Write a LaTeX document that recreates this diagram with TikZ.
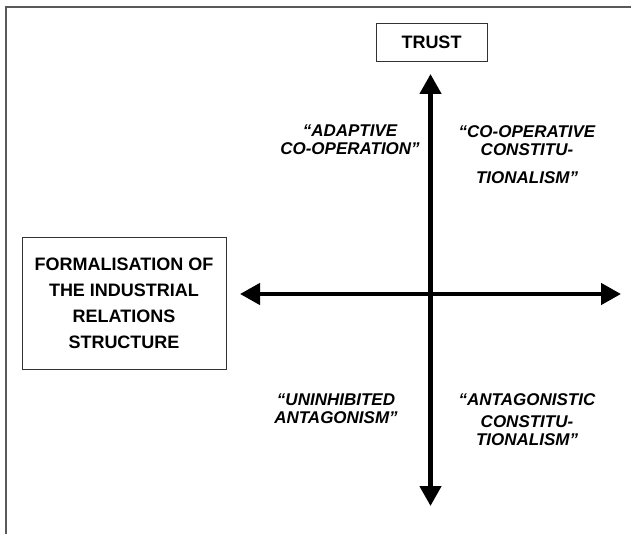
\documentclass[tikz,border=0pt]{standalone}
\usepackage{fontspec}
\setmainfont{Liberation Sans}
\usetikzlibrary{arrows.meta}
\begin{document}
\begin{tikzpicture}[x=1pt,y=-1pt,
  frame/.style={draw=black!65, line width=1.4pt},
  box/.style={draw=black!80, line width=0.9pt, font=\fontsize{18pt}{26pt}\selectfont\bfseries, align=center, inner sep=0pt},
  lab/.style={font=\fontsize{17pt}{19pt}\selectfont\bfseries\itshape, anchor=base, inner sep=0pt},
  axis/.style={line width=4.5pt, {Triangle[length=20pt,width=21pt]}-{Triangle[length=20pt,width=21pt]}}]
\useasboundingbox (0,0) rectangle (631,534);
% frame (top and left only)
\coordinate (fbl) at (6,534);
\coordinate (ftl) at (6,7);
\coordinate (ftr) at (631,7);
\draw[frame] (fbl) -- (ftl) -- (ftr);
% boxes
\node[box, minimum width=111pt, minimum height=38pt] (trust) at (431.5,42) {TRUST};
\node[box, minimum width=204pt, minimum height=132pt] (formal) at (124,303) {FORMALISATION OF\\THE INDUSTRIAL\\RELATIONS\\STRUCTURE};
% axes
\coordinate (vtop) at (430.5,74);
\coordinate (vbot) at (430.5,506);
\coordinate (hleft) at (240,294);
\coordinate (hright) at (621,294);
\draw[axis] (vtop) -- (vbot);
\draw[axis] (hleft) -- (hright);
% quadrant labels
\node[lab] (tla) at (350,137) {“ADAPTIVE};
\node[lab] (tlb) at (350,155) {CO-OPERATION”};
\node[lab] (tra) at (527,138) {“CO-OPERATIVE};
\node[lab] (trb) at (527,156) {CONSTITU-};
\node[lab] (trc) at (527,184) {TIONALISM”};
\node[lab] (bla) at (336,405) {“UNINHIBITED};
\node[lab] (blb) at (336,423) {ANTAGONISM”};
\node[lab] (bra) at (527,405) {“ANTAGONISTIC};
\node[lab] (brb) at (527,427) {CONSTITU-};
\node[lab] (brc) at (527,445) {TIONALISM”};
\end{tikzpicture}
\end{document}
